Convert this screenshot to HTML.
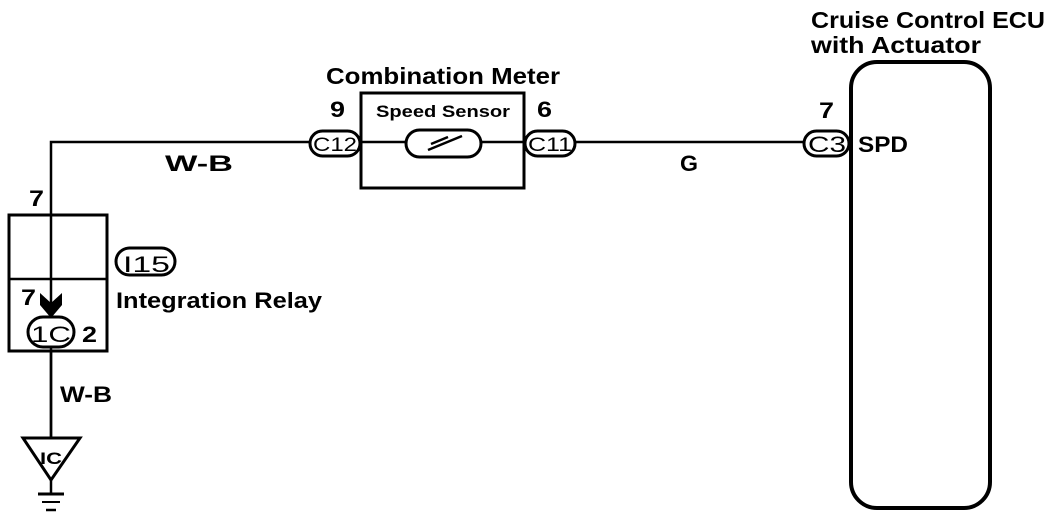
<!DOCTYPE html>
<html><head><meta charset="utf-8"><style>
html,body{margin:0;padding:0;background:#fff;}
svg{display:block}
text{font-family:"Liberation Sans",Arial,sans-serif;font-weight:bold;fill:#000}
</style></head><body>
<svg width="1056" height="526" viewBox="0 0 1056 526" xmlns="http://www.w3.org/2000/svg">
<g stroke="#000" fill="none">
<polyline points="51,438 51,142 310,142" stroke-width="2.5"/>
<line x1="360" y1="142" x2="525" y2="142" stroke-width="2.5"/>
<line x1="575" y1="142" x2="804" y2="142" stroke-width="2.5"/>
<rect x="361" y="93" width="163" height="95" stroke-width="3"/>
<rect x="406" y="130" width="75" height="27" rx="13.5" fill="#fff" stroke-width="3"/>
<line x1="428" y1="150" x2="462" y2="136" stroke-width="2.5"/>
<line x1="431" y1="144" x2="448" y2="137" stroke-width="2.5"/>
<rect x="310" y="131" width="50" height="25" rx="12.5" fill="#fff" stroke-width="3"/>
<rect x="525" y="131" width="50" height="25" rx="12.5" fill="#fff" stroke-width="3"/>
<rect x="804" y="131" width="45" height="25" rx="12.5" fill="#fff" stroke-width="3"/>
<rect x="851" y="62" width="139" height="446" rx="26" stroke-width="4"/>
<rect x="9" y="215" width="98" height="136" stroke-width="3"/>
<line x1="9" y1="279" x2="107" y2="279" stroke-width="2.5"/>
<rect x="116" y="248" width="59" height="27" rx="13.5" stroke-width="3"/>
<rect x="28" y="317" width="46" height="30" rx="15" fill="#fff" stroke-width="3"/>
<line x1="51" y1="351" x2="51" y2="438" stroke-width="2.5"/>
<polygon points="23,438 80,438 51,480" stroke-width="3"/>
<line x1="51" y1="480" x2="51" y2="494" stroke-width="2.5"/>
<line x1="38" y1="494" x2="64" y2="494" stroke-width="3"/>
<line x1="42" y1="502" x2="60" y2="502" stroke-width="2"/>
<line x1="46" y1="510" x2="56" y2="510" stroke-width="2.5"/>
</g>
<polygon points="40,293 51,303 62,293 62,305 51,318 40,305" fill="#000"/>
<text x="326" y="84" font-size="23" textLength="234" lengthAdjust="spacingAndGlyphs">Combination Meter</text>
<text x="376" y="117" font-size="17" textLength="134" lengthAdjust="spacingAndGlyphs">Speed Sensor</text>
<text x="330" y="117" font-size="22" textLength="15" lengthAdjust="spacingAndGlyphs">9</text>
<text x="537" y="117" font-size="22" textLength="15" lengthAdjust="spacingAndGlyphs">6</text>
<text x="313" y="151" font-size="19" font-weight="normal" textLength="44" lengthAdjust="spacingAndGlyphs" style="font-weight:normal">C12</text>
<text x="528" y="151" font-size="19" textLength="44" lengthAdjust="spacingAndGlyphs" style="font-weight:normal">C11</text>
<text x="808" y="152" font-size="22" textLength="38" lengthAdjust="spacingAndGlyphs" style="font-weight:normal">C3</text>
<text x="819" y="118" font-size="22" textLength="15" lengthAdjust="spacingAndGlyphs">7</text>
<text x="858" y="152" font-size="22" textLength="50" lengthAdjust="spacingAndGlyphs">SPD</text>
<text x="811" y="28" font-size="23" textLength="234" lengthAdjust="spacingAndGlyphs">Cruise Control ECU</text>
<text x="811" y="53" font-size="23" textLength="170" lengthAdjust="spacingAndGlyphs">with Actuator</text>
<text x="165" y="171" font-size="22" textLength="68" lengthAdjust="spacingAndGlyphs">W-B</text>
<text x="680" y="171" font-size="22" textLength="18" lengthAdjust="spacingAndGlyphs">G</text>
<text x="29" y="206" font-size="22" textLength="15" lengthAdjust="spacingAndGlyphs">7</text>
<text x="123" y="272" font-size="22" textLength="47" lengthAdjust="spacingAndGlyphs" style="font-weight:normal">I15</text>
<text x="116" y="308" font-size="22" textLength="206" lengthAdjust="spacingAndGlyphs">Integration Relay</text>
<text x="21" y="305" font-size="22" textLength="15" lengthAdjust="spacingAndGlyphs">7</text>
<text x="31" y="342" font-size="22" textLength="40" lengthAdjust="spacingAndGlyphs" style="font-weight:normal">1C</text>
<text x="82" y="342" font-size="22" textLength="15" lengthAdjust="spacingAndGlyphs">2</text>
<text x="60" y="402" font-size="22" textLength="52" lengthAdjust="spacingAndGlyphs">W-B</text>
<text x="40" y="464" font-size="17" textLength="22" lengthAdjust="spacingAndGlyphs">IC</text>
</svg>
</body></html>
